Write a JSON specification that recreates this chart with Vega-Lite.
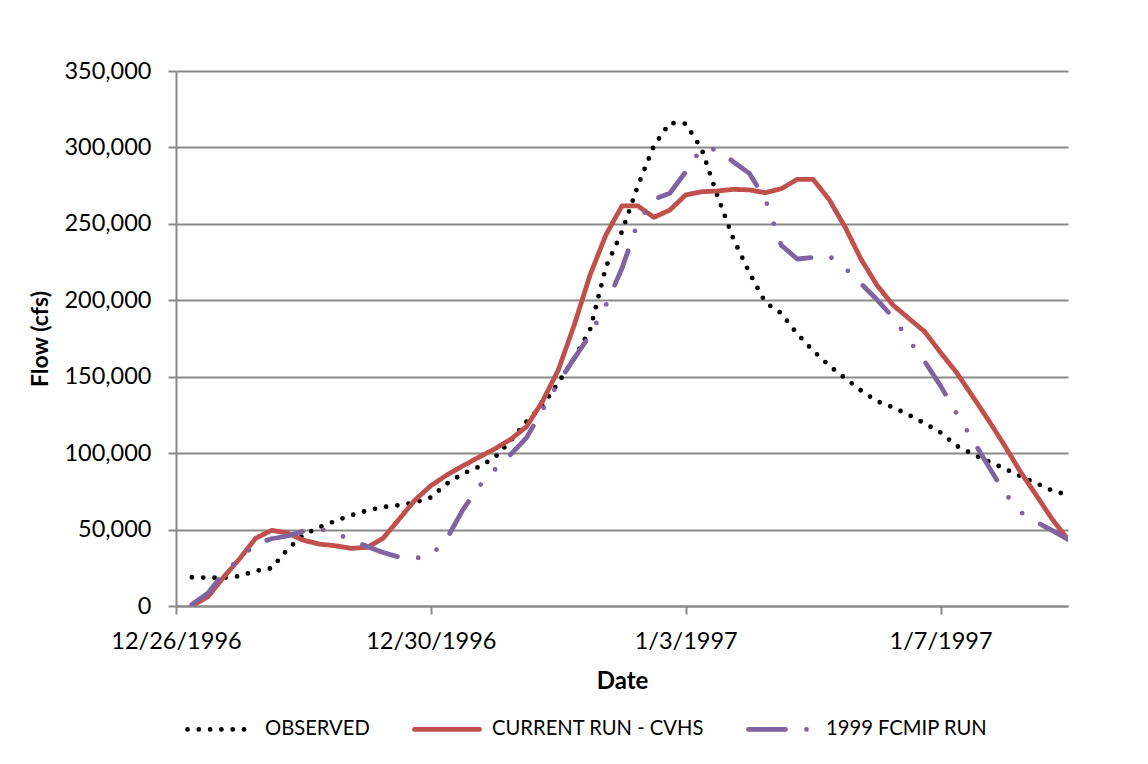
{
  "$schema": "https://vega.github.io/schema/vega-lite/v6.json",
  "width": 892,
  "height": 535,
  "autosize": {"type": "none"},
  "padding": {"left": 176, "top": 71, "right": 80, "bottom": 158},
  "background": "white",
  "config": {
    "view": {"stroke": null},
    "font": "Lato",
    "axis": {"labelFont": "Lato", "titleFont": "Lato", "labelColor": "#000000", "titleColor": "#000000"}
  },
  "data": {
    "values": [
      {"date": "1996-12-26T06:00", "OBSERVED": 18800, "CURRENT RUN - CVHS": 0, "1999 FCMIP RUN": 1000},
      {"date": "1996-12-26T12:00", "OBSERVED": 18500, "CURRENT RUN - CVHS": 6000, "1999 FCMIP RUN": 8300},
      {"date": "1996-12-26T18:00", "OBSERVED": 18500, "CURRENT RUN - CVHS": 19000, "1999 FCMIP RUN": 21500},
      {"date": "1996-12-27T00:00", "OBSERVED": 19500, "CURRENT RUN - CVHS": 31000, "1999 FCMIP RUN": 31000},
      {"date": "1996-12-27T06:00", "OBSERVED": 23000, "CURRENT RUN - CVHS": 44300, "1999 FCMIP RUN": 40500},
      {"date": "1996-12-27T12:00", "OBSERVED": 24700, "CURRENT RUN - CVHS": 49500, "1999 FCMIP RUN": 44000},
      {"date": "1996-12-27T18:00", "OBSERVED": 37000, "CURRENT RUN - CVHS": 47700, "1999 FCMIP RUN": 45800},
      {"date": "1996-12-28T00:00", "OBSERVED": 46500, "CURRENT RUN - CVHS": 43000, "1999 FCMIP RUN": 49000},
      {"date": "1996-12-28T06:00", "OBSERVED": 51500, "CURRENT RUN - CVHS": 40500, "1999 FCMIP RUN": 50500},
      {"date": "1996-12-28T12:00", "OBSERVED": 55600, "CURRENT RUN - CVHS": 39400, "1999 FCMIP RUN": 47800},
      {"date": "1996-12-28T18:00", "OBSERVED": 59400, "CURRENT RUN - CVHS": 37700, "1999 FCMIP RUN": 43000},
      {"date": "1996-12-29T00:00", "OBSERVED": 62400, "CURRENT RUN - CVHS": 38400, "1999 FCMIP RUN": 39000},
      {"date": "1996-12-29T06:00", "OBSERVED": 64700, "CURRENT RUN - CVHS": 44300, "1999 FCMIP RUN": 35000},
      {"date": "1996-12-29T12:00", "OBSERVED": 66000, "CURRENT RUN - CVHS": 56700, "1999 FCMIP RUN": 32000},
      {"date": "1996-12-29T18:00", "OBSERVED": 67700, "CURRENT RUN - CVHS": 69300, "1999 FCMIP RUN": 31200},
      {"date": "1996-12-30T00:00", "OBSERVED": 71000, "CURRENT RUN - CVHS": 78700, "1999 FCMIP RUN": 33000},
      {"date": "1996-12-30T06:00", "OBSERVED": 80000, "CURRENT RUN - CVHS": 85700, "1999 FCMIP RUN": 44000},
      {"date": "1996-12-30T12:00", "OBSERVED": 86500, "CURRENT RUN - CVHS": 91600, "1999 FCMIP RUN": 62800},
      {"date": "1996-12-30T18:00", "OBSERVED": 91000, "CURRENT RUN - CVHS": 97300, "1999 FCMIP RUN": 78000},
      {"date": "1996-12-31T00:00", "OBSERVED": 97000, "CURRENT RUN - CVHS": 102700, "1999 FCMIP RUN": 89000},
      {"date": "1996-12-31T06:00", "OBSERVED": 108000, "CURRENT RUN - CVHS": 109000, "1999 FCMIP RUN": 99000},
      {"date": "1996-12-31T12:00", "OBSERVED": 120500, "CURRENT RUN - CVHS": 117300, "1999 FCMIP RUN": 110000},
      {"date": "1996-12-31T18:00", "OBSERVED": 131000, "CURRENT RUN - CVHS": 133700, "1999 FCMIP RUN": 128000},
      {"date": "1997-01-01T00:00", "OBSERVED": 146000, "CURRENT RUN - CVHS": 154400, "1999 FCMIP RUN": 146000},
      {"date": "1997-01-01T06:00", "OBSERVED": 162000, "CURRENT RUN - CVHS": 183800, "1999 FCMIP RUN": 162000},
      {"date": "1997-01-01T12:00", "OBSERVED": 181000, "CURRENT RUN - CVHS": 216700, "1999 FCMIP RUN": 177500},
      {"date": "1997-01-01T18:00", "OBSERVED": 222000, "CURRENT RUN - CVHS": 243000, "1999 FCMIP RUN": 197000},
      {"date": "1997-01-02T00:00", "OBSERVED": 245000, "CURRENT RUN - CVHS": 261700, "1999 FCMIP RUN": 221000},
      {"date": "1997-01-02T06:00", "OBSERVED": 275000, "CURRENT RUN - CVHS": 261700, "1999 FCMIP RUN": 251000},
      {"date": "1997-01-02T12:00", "OBSERVED": 301000, "CURRENT RUN - CVHS": 254300, "1999 FCMIP RUN": 266000},
      {"date": "1997-01-02T18:00", "OBSERVED": 316000, "CURRENT RUN - CVHS": 259000, "1999 FCMIP RUN": 270000},
      {"date": "1997-01-03T00:00", "OBSERVED": 315500, "CURRENT RUN - CVHS": 268900, "1999 FCMIP RUN": 284000},
      {"date": "1997-01-03T06:00", "OBSERVED": 299000, "CURRENT RUN - CVHS": 271000, "1999 FCMIP RUN": 299500},
      {"date": "1997-01-03T12:00", "OBSERVED": 268000, "CURRENT RUN - CVHS": 271500, "1999 FCMIP RUN": 298500},
      {"date": "1997-01-03T18:00", "OBSERVED": 240000, "CURRENT RUN - CVHS": 272600, "1999 FCMIP RUN": 290500},
      {"date": "1997-01-04T00:00", "OBSERVED": 218000, "CURRENT RUN - CVHS": 272200, "1999 FCMIP RUN": 283000},
      {"date": "1997-01-04T06:00", "OBSERVED": 198500, "CURRENT RUN - CVHS": 270400, "1999 FCMIP RUN": 266000},
      {"date": "1997-01-04T12:00", "OBSERVED": 191500, "CURRENT RUN - CVHS": 273000, "1999 FCMIP RUN": 236000},
      {"date": "1997-01-04T18:00", "OBSERVED": 178000, "CURRENT RUN - CVHS": 279100, "1999 FCMIP RUN": 227000},
      {"date": "1997-01-05T00:00", "OBSERVED": 167000, "CURRENT RUN - CVHS": 279100, "1999 FCMIP RUN": 228000},
      {"date": "1997-01-05T06:00", "OBSERVED": 157300, "CURRENT RUN - CVHS": 266000, "1999 FCMIP RUN": 229000},
      {"date": "1997-01-05T12:00", "OBSERVED": 149000, "CURRENT RUN - CVHS": 248000, "1999 FCMIP RUN": 221000},
      {"date": "1997-01-05T18:00", "OBSERVED": 141000, "CURRENT RUN - CVHS": 227000, "1999 FCMIP RUN": 211000},
      {"date": "1997-01-06T00:00", "OBSERVED": 134000, "CURRENT RUN - CVHS": 210000, "1999 FCMIP RUN": 200500},
      {"date": "1997-01-06T06:00", "OBSERVED": 130000, "CURRENT RUN - CVHS": 197000, "1999 FCMIP RUN": 189000},
      {"date": "1997-01-06T12:00", "OBSERVED": 125000, "CURRENT RUN - CVHS": 188200, "1999 FCMIP RUN": 174000},
      {"date": "1997-01-06T18:00", "OBSERVED": 119500, "CURRENT RUN - CVHS": 179500, "1999 FCMIP RUN": 160000},
      {"date": "1997-01-07T00:00", "OBSERVED": 113500, "CURRENT RUN - CVHS": 165800, "1999 FCMIP RUN": 144000},
      {"date": "1997-01-07T06:00", "OBSERVED": 104800, "CURRENT RUN - CVHS": 152800, "1999 FCMIP RUN": 126000},
      {"date": "1997-01-07T12:00", "OBSERVED": 99500, "CURRENT RUN - CVHS": 137400, "1999 FCMIP RUN": 109000},
      {"date": "1997-01-07T18:00", "OBSERVED": 94500, "CURRENT RUN - CVHS": 121700, "1999 FCMIP RUN": 91500},
      {"date": "1997-01-08T00:00", "OBSERVED": 90000, "CURRENT RUN - CVHS": 105300, "1999 FCMIP RUN": 74500},
      {"date": "1997-01-08T06:00", "OBSERVED": 85000, "CURRENT RUN - CVHS": 88000, "1999 FCMIP RUN": 61500},
      {"date": "1997-01-08T12:00", "OBSERVED": 80400, "CURRENT RUN - CVHS": 72600, "1999 FCMIP RUN": 55000},
      {"date": "1997-01-08T18:00", "OBSERVED": 75500, "CURRENT RUN - CVHS": 56900, "1999 FCMIP RUN": 49500},
      {"date": "1997-01-09T00:00", "OBSERVED": 72600, "CURRENT RUN - CVHS": 43500, "1999 FCMIP RUN": 43500}
    ]
  },
  "transform": [
    {"fold": ["OBSERVED", "CURRENT RUN - CVHS", "1999 FCMIP RUN"], "as": ["series", "flow"]}
  ],
  "mark": {"type": "line", "strokeWidth": 4.8, "strokeCap": "round", "strokeJoin": "round", "clip": true},
  "encoding": {
    "x": {
      "field": "date",
      "type": "temporal",
      "title": "Date",
      "scale": {"domain": [{"year": 1996, "month": 12, "date": 26}, {"year": 1997, "month": 1, "date": 9}]},
      "axis": {
        "values": [
          {"year": 1996, "month": 12, "date": 26},
          {"year": 1996, "month": 12, "date": 30},
          {"year": 1997, "month": 1, "date": 3},
          {"year": 1997, "month": 1, "date": 7}
        ],
        "format": "%-m/%-d/%Y",
        "grid": false,
        "domainColor": "#898989",
        "domainWidth": 2,
        "tickColor": "#898989",
        "tickWidth": 2,
        "tickSize": 8,
        "labelFontSize": 23.5,
        "labelPadding": 15,
        "labelFlush": false,
        "titleFontSize": 24,
        "titleFontWeight": "bold",
        "titlePadding": 17
      }
    },
    "y": {
      "field": "flow",
      "type": "quantitative",
      "title": "Flow (cfs)",
      "scale": {"domain": [0, 350000], "nice": false},
      "axis": {
        "values": [0, 50000, 100000, 150000, 200000, 250000, 300000, 350000],
        "format": ",d",
        "grid": true,
        "gridColor": "#898989",
        "gridWidth": 2,
        "domainColor": "#898989",
        "domainWidth": 2,
        "tickColor": "#898989",
        "tickWidth": 2,
        "tickSize": 8,
        "labelFontSize": 23.5,
        "labelPadding": 17,
        "titleFontSize": 23,
        "titleFontWeight": "bold",
        "titlePadding": 11
      }
    },
    "color": {
      "field": "series",
      "type": "nominal",
      "title": null,
      "scale": {
        "domain": ["OBSERVED", "CURRENT RUN - CVHS", "1999 FCMIP RUN"],
        "range": ["#000000", "#C0504D", "#8064A2"]
      },
      "legend": {
        "orient": "none",
        "legendX": 9,
        "legendY": 623,
        "direction": "horizontal",
        "symbolType": "stroke",
        "symbolSize": 4225,
        "symbolStrokeWidth": 4.8,
        "labelFontSize": 20.2,
        "labelFont": "Lato",
        "labelColor": "#000000",
        "labelOffset": 10,
        "columnPadding": 34,
        "labelLimit": 400,
        "encode": {"symbols": {"update": {"strokeCap": {"value": "round"}}}}
      }
    },
    "strokeDash": {
      "field": "series",
      "type": "nominal",
      "title": null,
      "scale": {
        "domain": ["OBSERVED", "CURRENT RUN - CVHS", "1999 FCMIP RUN"],
        "range": [[0, 11.3], [1, 0], [37, 21, 0, 21, 0, 21]]
      }
    }
  }
}
